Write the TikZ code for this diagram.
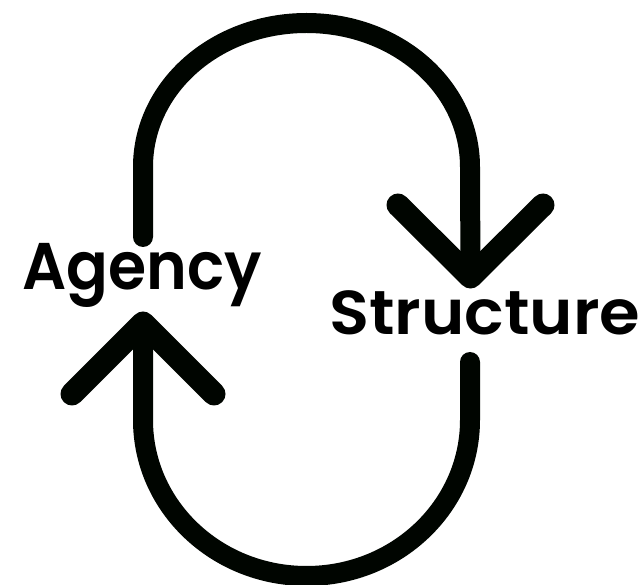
\documentclass[tikz,border=0pt]{standalone}
\usepackage{fontspec}
\setmainfont{Poppins}[BoldFont={Poppins SemiBold}]
\begin{document}
\begin{tikzpicture}[x=1pt,y=-1pt,
  loopline/.style={line width=20pt,line cap=round,line join=round,draw=black!95!green!40!black},
  headline/.style={line width=23pt,line cap=round,line join=round,draw=black!95!green!40!black},
  lbl/.style={inner sep=0pt,text=black}]
\useasboundingbox (0,0) rectangle (643,585);
% labels
\node[lbl,anchor=base west,font=\fontsize{66}{66}\selectfont\bfseries,xscale=0.935] (agency) at (22,290) {Agency};
\node[lbl,anchor=base west,font=\fontsize{62}{62}\selectfont\bfseries,xscale=1.06] (structure) at (329,335) {Structure};
% anchor points of the connectors
\coordinate (a1) at (143,237);
\coordinate (s1) at (470.5,277);
\coordinate (s2) at (470,362);
\coordinate (a2) at (143,323);
% top loop: Agency -> Structure
\draw[loopline] (a1) -- (143,167) .. controls (143,87) and (216,23) .. (306.5,23)
  .. controls (397,23) and (470,87) .. (470,167) -- (s1);
\draw[headline] (398,205) -- (s1) -- (543,205);
% bottom loop: Structure -> Agency
\draw[loopline] (s2) -- (470,420) .. controls (470,506) and (397,576) .. (306.5,576)
  .. controls (216,576) and (143,506) .. (143,420) -- (a2);
\draw[headline] (72,394) -- (a2) -- (214,394);
\end{tikzpicture}
\end{document}
